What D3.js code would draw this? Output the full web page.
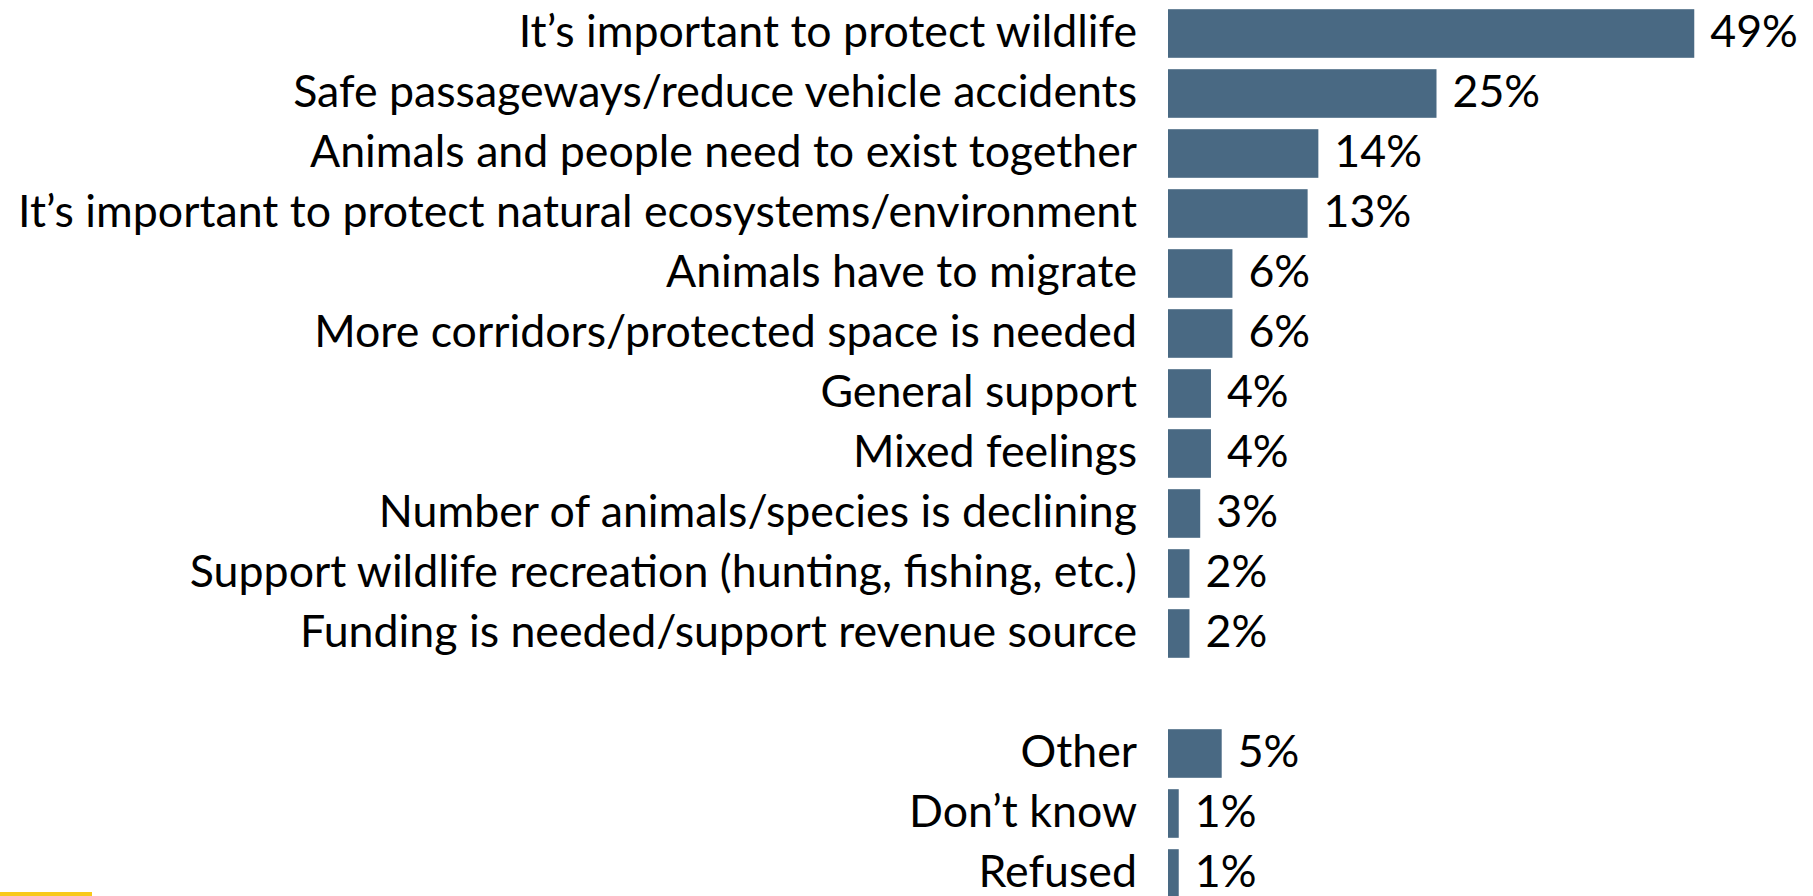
<!DOCTYPE html>
<html>
<head>
<meta charset="utf-8">
<script src="https://cdn.jsdelivr.net/npm/d3@7"></script>
<style>
  html, body { margin: 0; padding: 0; background: #ffffff; overflow: hidden; }
  svg { display: block; }
  text { font-family: Lato, "Open Sans", sans-serif; fill: #000; }
</style>
</head>
<body>
<svg id="chart" width="1813" height="896"></svg>
<script>
// ---- data ----
const mainCategories = [
  "It\u2019s important to protect wildlife",
  "Safe passageways/reduce vehicle accidents",
  "Animals and people need to exist together",
  "It\u2019s important to protect natural ecosystems/environment",
  "Animals have to migrate",
  "More corridors/protected space is needed",
  "General support",
  "Mixed feelings",
  "Number of animals/species is declining",
  "Support wildlife recreation (hunting, fishing, etc.)",
  "Funding is needed/support revenue source"
];
const mainValues = [49, 25, 14, 13, 6, 6, 4, 4, 3, 2, 2];
const otherCategories = ["Other", "Don\u2019t know", "Refused"];
const otherValues = [5, 1, 1];
const gapKey = "__gap__";

// ---- layout ----
const barLeft = 1168;
const labelRight = 1137;
const pxPerPct = 10.74;

const rows = mainCategories.map((c, i) => ({ key: c, label: c, value: mainValues[i] }))
  .concat(otherCategories.map((c, i) => ({ key: c, label: c, value: otherValues[i] })));
const domain = mainCategories.concat([gapKey], otherCategories);

const svg = d3.select("#chart");

const y = d3.scaleBand()
  .domain(domain)
  .range([3.5, 3.5 + domain.length * 60])
  .paddingInner(0.19)
  .paddingOuter(0.095);

const x = d3.scaleLinear()
  .domain([0, 100])
  .range([barLeft, barLeft + 100 * pxPerPct]);

const barColor = "#496983";

// bars
svg.append("g").selectAll("rect")
  .data(rows)
  .join("rect")
  .attr("x", x(0))
  .attr("y", d => y(d.key))
  .attr("width", d => x(d.value) - x(0))
  .attr("height", y.bandwidth())
  .attr("fill", barColor);

// category labels
const labels = svg.append("g").selectAll("text")
  .data(rows)
  .join("text")
  .attr("x", labelRight)
  .attr("y", d => y(d.key) + y.bandwidth() / 2 + 13.5)
  .attr("text-anchor", "end")
  .style("font-size", "44px")
  .text(d => d.label);

// fit font size so the longest label spans like the reference
let maxW = 0;
labels.each(function () { maxW = Math.max(maxW, this.getComputedTextLength()); });
const fs = 44 * 1119 / maxW;
labels.style("font-size", fs + "px");

// value labels
svg.append("g").selectAll("text")
  .data(rows)
  .join("text")
  .attr("x", d => x(d.value) + 16)
  .attr("y", d => y(d.key) + y.bandwidth() / 2 + 13.5)
  .attr("text-anchor", "start")
  .style("font-size", fs + "px")
  .text(d => d.value + "%");

// yellow accent line at bottom-left
svg.append("rect")
  .attr("x", 0)
  .attr("y", 892)
  .attr("width", 92)
  .attr("height", 4)
  .attr("fill", "#F8C91A");
</script>
</body>
</html>
